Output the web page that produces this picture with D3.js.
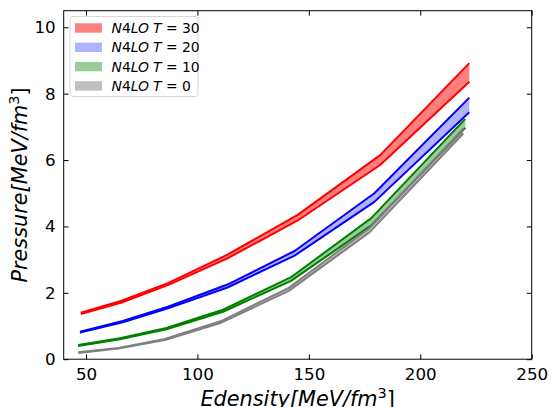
<!DOCTYPE html>
<html><head><meta charset="utf-8">
<script src="https://cdn.jsdelivr.net/npm/d3@7"></script>
<style>body{margin:0;background:#fff}svg{display:block}text{font-family:"DejaVu Sans",sans-serif}</style>
</head><body><svg id="c" width="552" height="407"></svg>
<script>
const labels = ["T = 30", "T = 20", "T = 10", "T = 0"];
const lineColors = ["#ff0000", "#0000ff", "#008000", "#808080"];
const fillColors = ["rgba(255,0,0,0.5)", "rgba(0,0,255,0.3)", "rgba(0,128,0,0.4)", "rgba(128,128,128,0.5)"];
const x30 = [47.7, 66, 87, 113.5, 145, 182, 222];
const up30 = [1.40, 1.76, 2.30, 3.15, 4.35, 6.15, 8.92];
const lo30 = [1.36, 1.71, 2.24, 3.04, 4.18, 5.85, 8.36];
const x20 = [47.3, 66.5, 86.8, 113.5, 143.6, 179.4, 222];
const up20 = [0.83, 1.15, 1.58, 2.25, 3.26, 5.00, 7.88];
const lo20 = [0.80, 1.11, 1.53, 2.16, 3.12, 4.74, 7.44];
const x10 = [46.5, 65.2, 86.1, 111.5, 142, 178, 220.2];
const up10 = [0.43, 0.63, 0.94, 1.49, 2.47, 4.25, 7.24];
const lo10 = [0.40, 0.60, 0.90, 1.43, 2.36, 4.03, 6.97];
const x0 = [46.5, 64.5, 85.4, 110.7, 141, 177.2, 219.3];
const up0 = [0.21, 0.34, 0.61, 1.15, 2.15, 3.95, 6.95];
const lo0 = [0.19, 0.32, 0.58, 1.10, 2.06, 3.82, 6.80];
const xTicks = [50, 100, 150, 200, 250];
const yTicks = [0, 2, 4, 6, 8, 10];

const series = [[x30, up30, lo30], [x20, up20, lo20], [x10, up10, lo10], [x0, up0, lo0]];
const L = 63.7, R = 531.7, T = 10.7, B = 359.2;
const svg = d3.select("#c");
const x = d3.scaleLinear().domain([40, 250]).range([L, R]);
const y = d3.scaleLinear().domain([0, 10.5]).range([B, T]);

svg.append("clipPath").attr("id", "clp").append("rect")
  .attr("x", L).attr("y", T).attr("width", R - L).attr("height", B - T);
const g = svg.append("g").attr("clip-path", "url(#clp)");

series.forEach((s, i) => {
  const [xs, ups, los] = s;
  const pts = xs.map((v, k) => ({x: v, u: ups[k], l: los[k]}));
  g.append("path").datum(pts)
    .attr("d", d3.area().x(d => x(d.x)).y0(d => y(d.l)).y1(d => y(d.u)))
    .attr("fill", fillColors[i]).attr("stroke", "none");
  ["u", "l"].forEach(key => {
    g.append("path").datum(pts)
      .attr("d", d3.line().x(d => x(d.x)).y(d => y(d[key])))
      .attr("fill", "none").attr("stroke", lineColors[i]).attr("stroke-width", 2)
      .attr("stroke-linejoin", "round");
  });
});

// axes with inward ticks on all sides
const tickLen = 4.9;
const fs = 16.7;
const xb = svg.append("g").attr("transform", `translate(0,${B})`)
  .call(d3.axisBottom(x).tickValues(xTicks).tickSizeInner(-tickLen).tickSizeOuter(0).tickPadding(9));
const xt = svg.append("g").attr("transform", `translate(0,${T})`)
  .call(d3.axisTop(x).tickValues(xTicks).tickSizeInner(-tickLen).tickSizeOuter(0).tickFormat(""));
const yl = svg.append("g").attr("transform", `translate(${L},0)`)
  .call(d3.axisLeft(y).tickValues(yTicks).tickSizeInner(-tickLen).tickSizeOuter(0).tickPadding(8));
const yr = svg.append("g").attr("transform", `translate(${R},0)`)
  .call(d3.axisRight(y).tickValues(yTicks).tickSizeInner(-tickLen).tickSizeOuter(0).tickFormat(""));
[xb, xt, yl, yr].forEach(a => {
  a.select(".domain").remove();
  a.selectAll(".tick line").attr("stroke", "#000").attr("stroke-width", 1);
  a.selectAll("text").attr("font-family", "DejaVu Sans").attr("font-size", fs).attr("fill", "#000");
});
xb.selectAll("text").attr("dy", "0.71em");
svg.append("rect").attr("x", L).attr("y", T).attr("width", R - L).attr("height", B - T)
  .attr("fill", "none").attr("stroke", "#000").attr("stroke-width", 1);

// axis labels
const lfs = 20.8;
const xlab = svg.append("text").attr("x", (L + R) / 2).attr("y", 406).attr("text-anchor", "middle")
  .attr("font-size", lfs).attr("font-style", "italic");
xlab.append("tspan").text("Edensity[MeV/fm");
xlab.append("tspan").attr("font-size", lfs * 0.7).attr("dy", -8).attr("font-style", "normal").text("3");
xlab.append("tspan").attr("dy", 8).attr("font-style", "normal").text("]");
const ylab = svg.append("text").attr("transform", `translate(27,${(T + B) / 2}) rotate(-90)`)
  .attr("text-anchor", "middle").attr("font-size", lfs).attr("font-style", "italic");
ylab.append("tspan").text("Pressure[MeV/fm");
ylab.append("tspan").attr("font-size", lfs * 0.7).attr("dy", -8).attr("font-style", "normal").text("3");
ylab.append("tspan").attr("dy", 8).attr("font-style", "normal").text("]");

// legend
const lg = svg.append("g");
lg.append("rect").attr("x", 70).attr("y", 16.5).attr("width", 128).attr("height", 80)
  .attr("rx", 3).attr("fill", "rgba(255,255,255,0.8)").attr("stroke", "#d6d6d6").attr("stroke-width", 1);
labels.forEach((lab, i) => {
  const cy = 28 + i * 19.3;
  lg.append("rect").attr("x", 75).attr("y", cy - 4.7).attr("width", 27).attr("height", 9.4)
    .attr("fill", fillColors[i]);
  const t = lg.append("text").attr("x", 111.5).attr("y", cy + 5).attr("font-size", 13.9);
  t.append("tspan").attr("font-style", "italic").text("N");
  t.append("tspan").text("4");
  t.append("tspan").attr("font-style", "italic").text("LO");
  t.append("tspan").attr("font-style", "italic").attr("dx", 4).text("T");
  t.append("tspan").text(lab.slice(1));
});
</script></body></html>
